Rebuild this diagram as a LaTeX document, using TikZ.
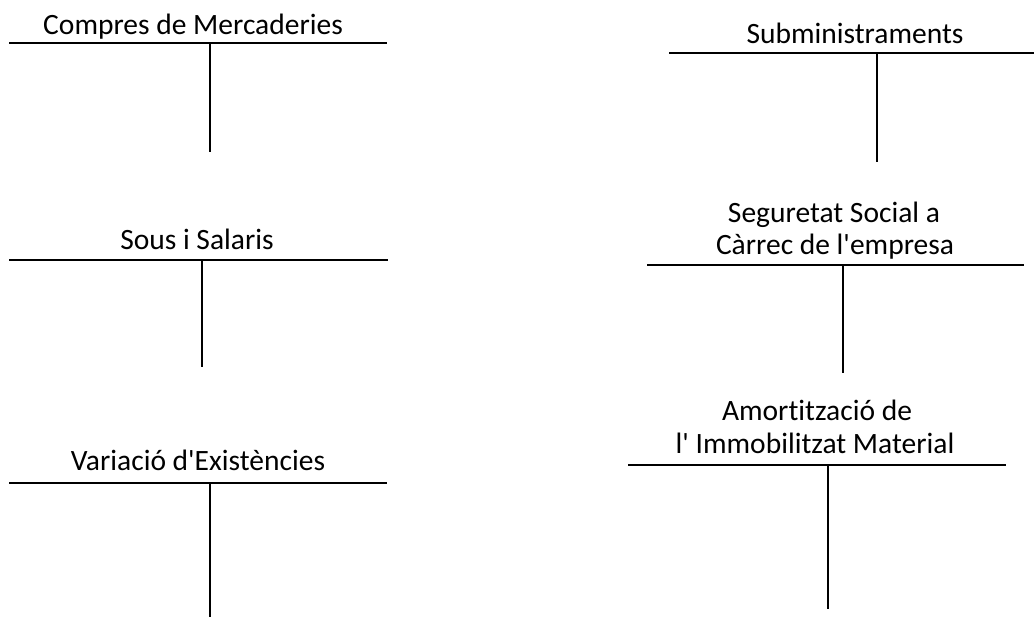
\documentclass[tikz,border=0pt]{standalone}
\usepackage{fontspec}
\setmainfont{Carlito}[Ligatures={NoCommon}]
\begin{document}
\begin{tikzpicture}[x=1pt,y=-1pt,
  title/.style={anchor=base,inner sep=0pt,font=\fontsize{29.5}{32}\selectfont},
  tline/.style={line width=2pt,black}]
\useasboundingbox[fill=white] (0,0) rectangle (1034,619);
% T1
\node[title] (t1) at (193,34) {Compres de Mercaderies};
\coordinate (t1l) at (9,43); \coordinate (t1r) at (387,43);
\coordinate (t1top) at (210,43); \coordinate (t1bot) at (210,152);
\draw[tline] (t1l) -- (t1r); \draw[tline] (t1top) -- (t1bot);
% T2
\node[title] (t2) at (855,43) {Subministraments};
\coordinate (t2l) at (669,53); \coordinate (t2r) at (1034,53);
\coordinate (t2top) at (877,53); \coordinate (t2bot) at (877,162);
\draw[tline] (t2l) -- (t2r); \draw[tline] (t2top) -- (t2bot);
% T3
\node[title] (t3) at (197,249) {Sous i Salaris};
\coordinate (t3l) at (9,260); \coordinate (t3r) at (388,260);
\coordinate (t3top) at (202,260); \coordinate (t3bot) at (202,367);
\draw[tline] (t3l) -- (t3r); \draw[tline] (t3top) -- (t3bot);
% T4
\node[title] (t4a) at (834,222) {Seguretat Social a};
\node[title] (t4b) at (835,254) {Càrrec de l\textquotesingle empresa};
\coordinate (t4l) at (647,265); \coordinate (t4r) at (1024,265);
\coordinate (t4top) at (843,265); \coordinate (t4bot) at (843,373);
\draw[tline] (t4l) -- (t4r); \draw[tline] (t4top) -- (t4bot);
% T5
\node[title] (t5) at (198,470) {Variació d\textquotesingle Existències};
\coordinate (t5l) at (9,483); \coordinate (t5r) at (387,483);
\coordinate (t5top) at (210,483); \coordinate (t5bot) at (210,617);
\draw[tline] (t5l) -- (t5r); \draw[tline] (t5top) -- (t5bot);
% T6
\node[title] (t6a) at (817,420) {Amortització de};
\node[title] (t6b) at (815,453) {l\textquotesingle{} Immobilitzat Material};
\coordinate (t6l) at (628,465); \coordinate (t6r) at (1006,465);
\coordinate (t6top) at (828,465); \coordinate (t6bot) at (828,609);
\draw[tline] (t6l) -- (t6r); \draw[tline] (t6top) -- (t6bot);
\end{tikzpicture}
\end{document}
